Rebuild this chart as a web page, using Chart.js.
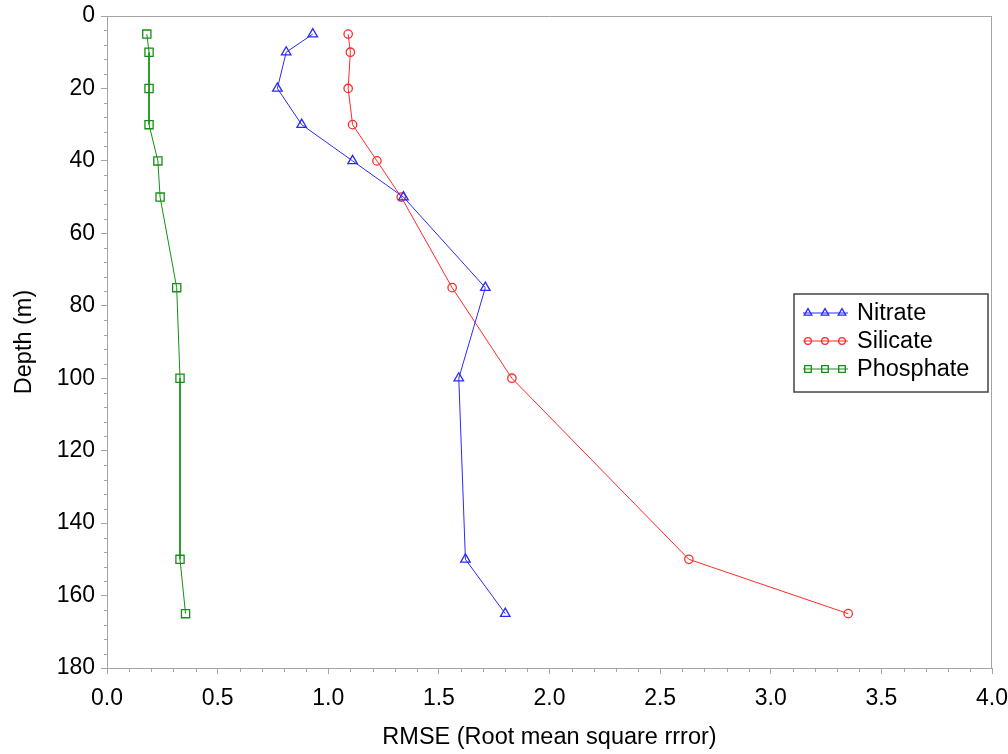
<!DOCTYPE html>
<html>
<head>
<meta charset="utf-8">
<script src="https://cdn.jsdelivr.net/npm/chart.js@4/dist/chart.umd.min.js"></script>
<style>
  body { margin: 0; background: #fff; }
  #wrap { width: 1008px; height: 754px; }
</style>
</head>
<body>
<div id="wrap"><canvas id="grafica"></canvas></div>
<script>
// profundidades (m) y RMSE por nutriente
const depths    = [5, 10, 20, 30, 40, 50, 75, 100, 150, 165];
const nitrate   = [0.93, 0.81, 0.77, 0.88, 1.11, 1.34, 1.71, 1.59, 1.62, 1.80];
const silicate  = [1.09, 1.10, 1.09, 1.11, 1.22, 1.33, 1.56, 1.83, 2.63, 3.35];
const phosphate = [0.18, 0.19, 0.19, 0.19, 0.23, 0.24, 0.315, 0.33, 0.33, 0.355];

const FONT = "'Liberation Sans', Arial, sans-serif";
const AXIS_GREY = '#a2a6aa';

function puntos(valores) {
  return valores.map((v, i) => ({ x: v, y: depths[i] }));
}

const series = [
  { label: 'Nitrate',   data: nitrate,   color: '#2a2aff', style: 'triangle', radius: 5.5 },
  { label: 'Silicate',  data: silicate,  color: '#ff2a2a', style: 'circle',   radius: 4.2 },
  { label: 'Phosphate', data: phosphate, color: '#139013', style: 'rect',     radius: 5.8 }
];

// marcas menores + marco superior/derecho
const marcasMenores = {
  id: 'marcasMenores',
  afterDraw(chart) {
    const { ctx, chartArea: a, scales: { x, y } } = chart;
    ctx.save();
    ctx.strokeStyle = AXIS_GREY;
    ctx.lineWidth = 1;
    ctx.beginPath();
    for (let v = 0; v <= 40; v++) {
      if (v % 5 === 0) continue;
      const px = Math.round(x.getPixelForValue(v / 10)) + 0.5;
      ctx.moveTo(px, a.bottom);
      ctx.lineTo(px, a.bottom + 4);
    }
    for (let d = 0; d <= 180; d += 4) {
      if (d % 20 === 0) continue;
      const py = Math.round(y.getPixelForValue(d)) + 0.5;
      ctx.moveTo(a.left, py);
      ctx.lineTo(a.left - 3, py);
    }
    // marco
    ctx.moveTo(a.left, Math.round(a.top) + 0.5);
    ctx.lineTo(a.right, Math.round(a.top) + 0.5);
    ctx.moveTo(Math.round(a.right) - 0.5, a.top);
    ctx.lineTo(Math.round(a.right) - 0.5, a.bottom);
    ctx.stroke();
    ctx.restore();
  }
};

// leyenda con tres marcadores por linea
const leyenda = {
  id: 'leyenda',
  afterDraw(chart) {
    const { ctx, chartArea: a } = chart;
    const bx = a.right - 198, by = 294, bw = 194, bh = 98;
    ctx.save();
    ctx.strokeStyle = '#444';
    ctx.lineWidth = 1.5;
    ctx.strokeRect(bx, by, bw, bh);
    ctx.font = '23.5px ' + FONT;
    ctx.textBaseline = 'middle';
    series.forEach((s, i) => {
      const ly = by + 19 + i * 28;
      ctx.strokeStyle = s.color;
      ctx.lineWidth = 1;
      ctx.beginPath();
      ctx.moveTo(bx + 9, ly);
      ctx.lineTo(bx + 54, ly);
      ctx.stroke();
      ctx.fillStyle = 'rgba(0,0,0,0)';
      ctx.lineWidth = 1.3;
      [14, 31, 48].forEach(dx => {
        Chart.helpers.drawPoint(ctx, { pointStyle: s.style, radius: s.radius * 0.8, rotation: 0, borderWidth: 1.3 }, bx + dx, ly);
      });
      ctx.fillStyle = '#000';
      ctx.fillText(s.label, bx + 63, ly + 1);
    });
    ctx.restore();
  }
};

new Chart(document.getElementById('grafica'), {
  type: 'line',
  data: {
    datasets: series.map(s => ({
      label: s.label,
      data: puntos(s.data),
      borderColor: s.color,
      backgroundColor: 'rgba(0,0,0,0)',
      borderWidth: 1,
      pointStyle: s.style,
      pointRadius: s.radius,
      pointBorderWidth: 1.3,
      pointBorderColor: s.color,
      pointBackgroundColor: 'rgba(0,0,0,0)',
      tension: 0,
      fill: false
    }))
  },
  options: {
    responsive: true,
    maintainAspectRatio: false,
    animation: false,
    layout: { padding: { top: 16, right: 16, left: 0, bottom: 0 } },
    plugins: {
      legend: { display: false },
      tooltip: { enabled: false }
    },
    scales: {
      x: {
        type: 'linear',
        min: 0,
        max: 4,
        afterFit(scale) {
          scale.height = 86;
          scale.paddingLeft = 0;
          scale.paddingRight = 0;
        },
        ticks: {
          stepSize: 0.5,
          padding: 11,
          color: '#000',
          font: { family: FONT, size: 23 },
          callback: v => v.toFixed(1)
        },
        grid: { drawOnChartArea: false, tickLength: 6, color: AXIS_GREY },
        border: { color: AXIS_GREY },
        title: {
          display: true,
          text: 'RMSE (Root mean square rrror)',
          color: '#000',
          font: { family: FONT, size: 23.5 },
          padding: { top: 0, bottom: 2 }
        }
      },
      y: {
        type: 'linear',
        reverse: true,
        min: 0,
        max: 180,
        afterFit(scale) {
          scale.width = 107;
          scale.paddingTop = 0;
          scale.paddingBottom = 0;
        },
        ticks: {
          stepSize: 20,
          padding: 6,
          color: '#000',
          font: { family: FONT, size: 23 }
        },
        grid: { drawOnChartArea: false, tickLength: 6, color: AXIS_GREY },
        border: { color: AXIS_GREY },
        title: {
          display: true,
          text: 'Depth (m)',
          color: '#000',
          font: { family: FONT, size: 23.5 },
          padding: { top: 10, bottom: 0 }
        }
      }
    }
  },
  plugins: [marcasMenores, leyenda]
});
</script>
</body>
</html>
